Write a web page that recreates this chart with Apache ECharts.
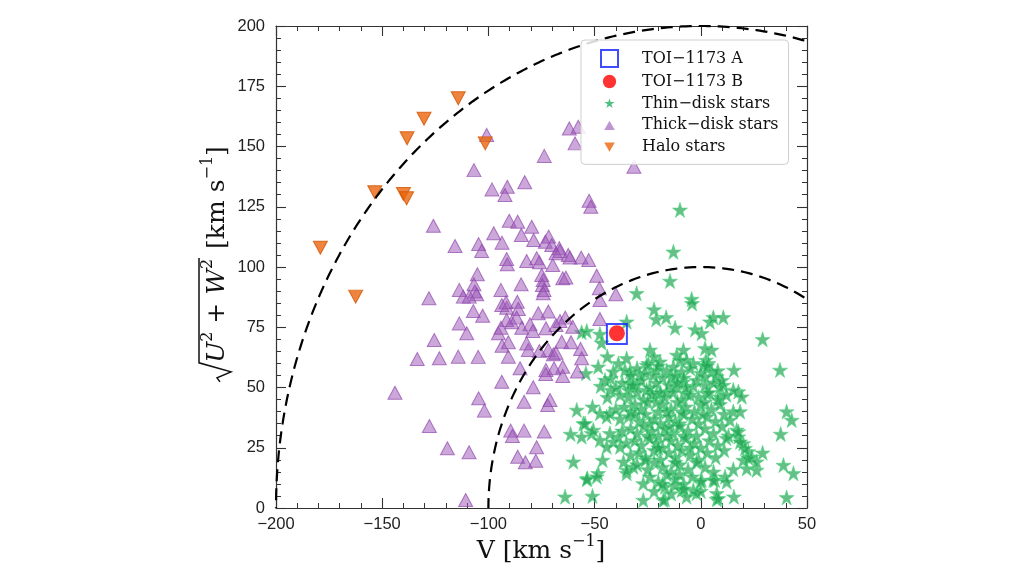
<!DOCTYPE html>
<html>
<head>
<meta charset="utf-8">
<script src="https://cdn.jsdelivr.net/npm/echarts@6/dist/echarts.min.js"></script>
<style>html,body{margin:0;padding:0;background:#fff;}#c{width:1024px;height:577px;}</style>
</head>
<body>
<div id="c"></div>
<script>
// ---------- data ----------
const xTicks = [-200, -150, -100, -50, 0, 50];
const yTicks = [0, 25, 50, 75, 100, 125, 150, 175, 200];
const circleRadii = [100, 200];

const toiA = [[-39.5, 72.2]];
const toiB = [[-39.5, 72.5]];

const haloStars = [
  [-114.2,170.0],[-130.3,161.5],[-138.3,153.4],[-101.5,151.3],[-153.5,131.0],
  [-140.0,130.3],[-138.5,128.5],[-179.1,108.0],[-162.5,87.7]
];

const thickDisk = [
  [-100.8,154.8],[-61.9,157.5],[-57.7,158.2],[-59.2,151.3],[-73.7,146.1],[-106.8,140.2],[-98.3,132.2],
  [-91.1,133.3],[-92.2,129.9],[-82.9,135.2],[-52.6,127.5],[-51.8,125.0],[-31.5,141.6],[-125.9,117.1],
  [-90.2,119.2],[-86.2,118.8],[-79.6,116.7],[-97.5,114.0],[-84.5,113.3],[-93.6,110.1],[-78.7,111.2],
  [-73.2,110.5],[-71.6,112.6],[-70.2,109.1],[-66.6,107.8],[-115.7,108.7],[-104.6,109.5],[-103.2,106.6],
  [-91.4,103.3],[-91.1,101.1],[-82.0,102.5],[-77.3,103.6],[-76.0,102.0],[-69.7,100.8],[-68.2,105.7],
  [-66.3,106.6],[-62.4,105.0],[-61.6,103.9],[-56.3,103.9],[-52.8,102.9],[-105.2,97.0],[-106.8,92.8],
  [-106.4,89.8],[-105.5,88.7],[-113.7,90.5],[-111.8,87.7],[-109.0,87.7],[-128.0,87.0],[-94.1,90.5],
  [-84.6,92.8],[-74.9,96.7],[-74.2,94.6],[-74.6,92.5],[-73.8,90.5],[-74.2,89.1],[-65.0,95.3],
  [-63.5,95.6],[-49.0,96.4],[-47.8,91.2],[-40.0,88.7],[-47.5,86.3],[-107.1,81.7],[-102.7,79.8],
  [-93.7,84.2],[-91.4,83.1],[-91.7,85.4],[-86.4,85.6],[-85.9,82.6],[-76.5,80.8],[-71.8,81.5],
  [-113.7,76.6],[-110.2,72.5],[-125.5,69.7],[-133.5,61.8],[-123.1,62.1],[-114.2,62.8],[-104.8,62.7],
  [-91.4,78.0],[-89.0,77.1],[-86.7,79.0],[-95.3,72.5],[-94.1,74.8],[-84.3,74.8],[-80.4,76.2],
  [-79.1,73.4],[-72.9,74.6],[-68.2,75.9],[-66.3,77.6],[-60.3,75.2],[-63.8,79.0],[-47.5,78.4],
  [-93.6,67.3],[-90.6,68.8],[-82.0,68.3],[-81.2,65.6],[-71.8,65.6],[-69.4,63.8],[-68.2,64.4],
  [-65.5,69.0],[-61.1,68.8],[-56.6,66.0],[-90.6,62.8],[-76.0,65.1],[-56.1,62.1],[-65.0,58.6],
  [-69.1,58.0],[-72.9,57.3],[-85.1,58.0],[-144.0,47.8],[-127.8,34.0],[-119.3,24.8],[-109.1,23.1],
  [-110.7,3.3],[-104.6,45.5],[-101.9,40.4],[-93.7,52.4],[-73.0,55.6],[-65.0,54.8],[-58.1,56.6],
  [-78.9,50.1],[-83.2,44.1],[-71.0,44.8],[-72.1,42.7],[-89.5,32.1],[-88.7,29.9],[-83.2,32.1],
  [-73.7,31.7],[-77.3,25.2],[-86.2,21.3],[-82.6,19.0],[-77.7,19.6]
];

const thinDisk = [
  [-9.8,123.7],[-12.9,106.3],[-14.5,94.2],[-30.2,89.1],[-4.3,86.7],[-4.1,84.9],[-22.0,82.4],[-21.0,78.3],
  [-16.3,79.1],[-12.1,74.8],[-2.7,74.1],[0.4,72.5],[4.3,77.3],[5.9,79.1],[10.6,79.1],[29.1,70.0],
  [-53.7,73.4],[-47.5,72.2],[-46.7,68.6],[-34.9,77.3],[-44.0,62.8],[-48.3,58.6],[-54.1,55.9],[-34.9,62.1],
  [-38.8,60.0],[-35.7,57.3],[-42.4,53.8],[-47.1,50.6],[-42.4,49.0],[-23.9,65.6],[-22.0,62.8],[-24.7,60.0],
  [-11.3,63.5],[-8.2,65.6],[-9.8,61.4],[-6.7,61.4],[2.0,66.3],[5.1,65.6],[2.4,61.4],[15.6,57.3],
  [37.3,57.3],[17.7,48.3],[19.3,46.2],[10.6,51.0],[15.3,49.0],[-3.5,50.6],[-58.4,40.7],[-51.0,42.0],
  [-55.3,35.1],[-61.3,30.7],[-56.1,29.6],[-51.4,31.0],[-47.5,28.2],[-41.2,27.5],[-44.3,25.4],[-60.0,19.2],
  [-46.2,19.9],[-53.4,12.3],[-48.3,14.4],[-34.9,14.4],[-63.9,4.7],[-51.0,5.0],[-27.1,3.3],[-16.9,3.6],
  [7.5,3.6],[15.6,4.7],[40.4,4.4],[40.4,40.0],[42.8,36.5],[37.6,30.7],[29.1,22.9],[38.9,17.8],
  [43.6,14.4],[15.3,16.1],[21.6,16.4],[26.3,15.8],[20.0,19.9],[15.3,40.0],[18.5,40.0],[13.7,36.5],
  [16.9,32.4],[17.7,29.6],[20.0,26.8],[22.4,23.4],[24.0,21.3],[11.4,13.0],[6.7,11.6],[7.5,6.1],
  [-9.0,7.5],[-3.5,7.5],[-53.7,11.9],[-49.0,13.0],[-54.5,35.1],[-50.6,32.4],[-47.5,39.3],[-44.3,37.9],
  [-42.8,39.3],[-42.8,31.0],[-38.8,29.6],[-38.0,25.4],[-36.4,19.2],[-34.9,15.8],[-31.8,17.1],[-27.1,10.2],
  [-17.7,3.3],[-16.9,8.8],[-12.1,9.5],[-6.7,4.7],[-2.0,6.1],[0.4,11.6],[5.9,11.6],[8.2,4.0],
  [12.2,10.9],[26.3,19.2],[22.4,20.7],[20.8,24.8],[18.5,27.5],[17.7,31.7],[-19.2,60.7],[-20.8,57.3],
  [-3.5,60.0],[3.6,60.0],[-33.3,56.6],[-41.2,56.6],[-45.1,53.1],[-56.1,72.9],[-30.2,51.0],[-25.5,49.0],
  [-20.8,47.6],[-16.1,48.3],[-11.3,50.3],[-6.7,47.6],[2.8,47.6],[9.0,46.2],[-33.3,51.7],[-34.1,49.0],
  [-25.5,59.3],[-22.4,55.2],[-28.7,55.2],[-12.9,58.6],[-9.0,56.6],[-13.7,54.5],[-8.2,52.4],[1.3,59.3],
  [5.2,56.6],[2.0,54.5],[7.5,54.5],[9.0,50.3],
  [-30,58],[-26,56],[-20,59],[-16,57],[-12,55],[-5,58],[0,56],[3,59],[8,57],[-33,55],[-18,54],[-8,54],
  [-37,52],[-32,51],[-28,53],[-24,50],[-21,52],[-15,51],[-11,52],[-7,50],[-2,53],[2,51],[6,52],[10,53],[-40,50],[-19,48],
  [-38,47],[-34,46],[-30,48],[-27,45],[-23,47],[-17,46],[-13,48],[-9,45],[-5,47],[-1,46],[4,48],[8,45],[12,47],[-44,46],[-21,44],
  [-36,42],[-31,43],[-28,41],[-25,44],[-20,40],[-18,43],[-14,41],[-11,44],[-7,42],[-3,40],[0,43],[5,41],[9,43],[-40,41],[-33,40],[-16,40],[-9,40],[2,44],
  [-38,37],[-34,38],[-29,36],[-26,39],[-22,37],[-19,35],[-15,38],[-12,36],[-8,39],[-4,37],[-1,35],[3,38],[7,36],[11,39],[-24,35],[-10,35],[1,39],[-31,39],
  [-37,32],[-33,33],[-30,31],[-27,34],[-23,32],[-20,30],[-17,33],[-13,31],[-10,34],[-6,32],[-2,30],[2,33],[6,31],[10,34],[13,30],[-25,30],[-8,30],[-15,34],
  [-35,27],[-31,28],[-28,26],[-24,29],[-21,27],[-18,25],[-14,28],[-11,26],[-7,29],[-3,27],[0,25],[4,28],[8,26],[12,29],[-16,30],[-5,25],
  [-33,22],[-29,23],[-26,21],[-22,24],[-19,20],[-15,23],[-12,21],[-9,24],[-5,22],[-1,20],[3,23],[7,21],[11,24],[-20,25],
  [-30,18],[-25,16],[-22,19],[-18,17],[-14,15],[-10,18],[-6,16],[-2,19],[2,17],[6,15],[-12,19],[-26,20],
  [-24,13],[-20,11],[-16,14],[-12,12],[-8,10],[-4,13],[0,11],[-18,10],[-10,14],
  [-22,7],[-14,6],[-8,8],[0,7]
];

const seriesNames = ['TOI\u22121173 A', 'TOI\u22121173 B', 'Thin\u2212disk stars', 'Thick\u2212disk stars', 'Halo stars'];

// ---------- helpers ----------
const STAR = 'path://M50,0 L61.2,34.5 L97.6,34.5 L68.2,55.9 L79.4,90.5 L50,69.1 L20.6,90.5 L31.8,55.9 L2.4,34.5 L38.8,34.5 Z';
const STAR_LEG = 'path://M-30,-32 M130,128 M50,0 L61.2,34.5 L97.6,34.5 L68.2,55.9 L79.4,90.5 L50,69.1 L20.6,90.5 L31.8,55.9 L2.4,34.5 L38.8,34.5 Z';
const CIRC_LEG = 'path://M-14,-14 M114,114 M50,0 A50,50 0 1 1 50,100 A50,50 0 1 1 50,0 Z';
const TRI_LEG = 'path://M-30,-35 M130,122 M50,0 L100,87 L0,87 Z';
const DTRI_LEG = 'path://M-30,-35 M130,122 M0,0 L100,0 L50,87 Z';
function circlePts(r) {
  const pts = [];
  for (let i = 0; i <= 360; i++) {
    const t = Math.PI * i / 360;
    pts.push([r * Math.cos(t), r * Math.sin(t)]);
  }
  return pts;
}
const fmt = v => String(v).replace('-', '\u2212');

const mctx = document.createElement('canvas').getContext('2d');
function tw(t, font) { mctx.font = font; return mctx.measureText(t).width; }

const SERIF = '"DejaVu Serif", serif';
function layoutTitle(segs) {
  const children = [];
  let x = 0;
  let radStart = null, ovStart = null, ovEnd = null;
  segs.forEach(s => {
    if (s.rad) { radStart = x; x += 19; ovStart = x; return; }
    if (s.endOv) { ovEnd = x + 1; return; }
    if (s.gap) { x += s.gap; return; }
    const font = (s.italic ? 'italic ' : '') + s.size + 'px ' + SERIF;
    children.push({ type: 'text', x: x, y: s.dy || 0,
      style: { text: s.t, font: font, fill: '#111', textAlign: 'left', align: 'left', textVerticalAlign: 'middle', verticalAlign: 'middle' } });
    x += tw(s.t, font);
  });
  const W = x;
  children.forEach(c => { c.x -= W / 2; });
  if (radStart !== null) {
    const r0 = radStart - W / 2, o0 = ovStart - W / 2, o1 = ovEnd - W / 2;
    children.push({ type: 'polyline', shape: { points: [[r0, 3], [r0 + 4, 0], [r0 + 10, 14], [o0, -18], [o1, -18]] },
      style: { stroke: '#111', lineWidth: 1.5, fill: null } });
  }
  return children;
}

const yTitle = layoutTitle([
  { rad: true },
  { t: 'U', size: 25, italic: true }, { t: '2', size: 16, dy: -9 }, { t: ' + ', size: 25 },
  { t: 'W', size: 25, italic: true }, { t: '2', size: 16, dy: -9 }, { endOv: true },
  { gap: 10 },
  { t: '[km s', size: 25 }, { t: '\u22121', size: 16, dy: -9 }, { t: ']', size: 25 }
]);
const xTitle = layoutTitle([
  { t: 'V [km s', size: 25 }, { t: '\u22121', size: 16, dy: -9 }, { t: ']', size: 25 }
]);

// ---------- chart ----------
const chart = echarts.init(document.getElementById('c'), null, { renderer: 'canvas' });
const axisCommon = {
  type: 'value', splitLine: { show: false }, minorSplitLine: { show: false },
  axisLine: { show: true, onZero: false, lineStyle: { color: '#333', width: 1.2 } },
  axisTick: { show: true, inside: true, length: 10, lineStyle: { color: '#333', width: 1.1 } },
  minorTick: { show: true, splitNumber: 5, length: 5, lineStyle: { color: '#333', width: 1 } }
};
const labelStyle = { fontFamily: '"Liberation Sans", Arial, sans-serif', fontSize: 16.5, color: '#222', formatter: fmt, showMinLabel: true, showMaxLabel: true };

chart.setOption({
  animation: false,
  backgroundColor: '#fff',
  grid: { left: 276, top: 26, width: 531, height: 482, containLabel: false },
  xAxis: [
    Object.assign({}, axisCommon, { position: 'bottom', min: xTicks[0], max: xTicks[xTicks.length - 1], interval: xTicks[1] - xTicks[0],
      axisLabel: Object.assign({ margin: 8 }, labelStyle) }),
    Object.assign({}, axisCommon, { position: 'top', min: xTicks[0], max: xTicks[xTicks.length - 1], interval: xTicks[1] - xTicks[0],
      axisLabel: { show: false } })
  ],
  yAxis: [
    Object.assign({}, axisCommon, { position: 'left', min: yTicks[0], max: yTicks[yTicks.length - 1], interval: yTicks[1] - yTicks[0],
      axisLabel: Object.assign({ margin: 11 }, labelStyle) }),
    Object.assign({}, axisCommon, { position: 'right', min: yTicks[0], max: yTicks[yTicks.length - 1], interval: yTicks[1] - yTicks[0],
      axisLabel: { show: false } })
  ],
  legend: {
    orient: 'vertical', left: 581, top: 40,
    padding: [9, 10, 9, 19], itemGap: 5, itemWidth: 17, itemHeight: 17,
    backgroundColor: 'rgba(255,255,255,0.85)', borderColor: '#cfcfcf', borderWidth: 1, borderRadius: 4,
    textStyle: { fontFamily: SERIF, fontSize: 16, color: '#111', padding: [0, 0, 0, 19] },
    data: [
      { name: seriesNames[0], icon: 'rect', itemStyle: { color: 'rgba(0,0,0,0)', borderColor: '#1020ff', borderWidth: 2 } },
      { name: seriesNames[1], icon: CIRC_LEG, itemStyle: { color: '#ff0000', borderWidth: 0 } },
      { name: seriesNames[2], icon: STAR_LEG, itemStyle: { color: '#22b060', borderWidth: 0 } },
      { name: seriesNames[3], icon: TRI_LEG, itemStyle: { color: 'rgba(155,89,182,0.8)', borderWidth: 0 } },
      { name: seriesNames[4], icon: DTRI_LEG, itemStyle: { color: '#ea650d', borderWidth: 0 } }
    ]
  },
  graphic: [
    { type: 'group', x: 217, y: 264, rotation: Math.PI / 2, children: yTitle },
    { type: 'group', x: 541, y: 551, children: xTitle }
  ],
  series: [
    { name: seriesNames[2], type: 'scatter', data: thinDisk, symbol: STAR, symbolSize: 15, z: 2,
      itemStyle: { color: 'rgba(30,162,80,0.85)', borderColor: 'rgba(80,215,130,0.9)', borderWidth: 0.8 } },
    { name: seriesNames[3], type: 'scatter', data: thickDisk, symbol: 'triangle', symbolSize: [14, 13], z: 2,
      itemStyle: { color: 'rgba(155,89,182,0.65)', borderColor: 'rgba(142,68,173,0.85)', borderWidth: 1 } },
    { name: seriesNames[4], type: 'scatter', data: haloStars, symbol: 'triangle', symbolRotate: 180, symbolSize: [14, 13], z: 2,
      itemStyle: { color: '#ea650d', borderColor: '#d35400', borderWidth: 1 } },
    { name: 'r' + circleRadii[0], type: 'line', data: circlePts(circleRadii[0]), showSymbol: false, silent: true, z: 3,
      lineStyle: { color: '#000', width: 2.2, type: [12, 7] } },
    { name: 'r' + circleRadii[1], type: 'line', data: circlePts(circleRadii[1]), showSymbol: false, silent: true, z: 3,
      lineStyle: { color: '#000', width: 2.2, type: [12, 7] } },
    { name: seriesNames[0], type: 'scatter', data: toiA, symbol: 'rect', symbolSize: 20, z: 4,
      itemStyle: { color: 'rgba(0,0,0,0)', borderColor: '#1020ff', borderWidth: 2 } },
    { name: seriesNames[1], type: 'scatter', data: toiB, symbol: 'circle', symbolSize: 16, z: 5,
      itemStyle: { color: '#ff0000' } }
  ]
});
</script>
</body>
</html>
